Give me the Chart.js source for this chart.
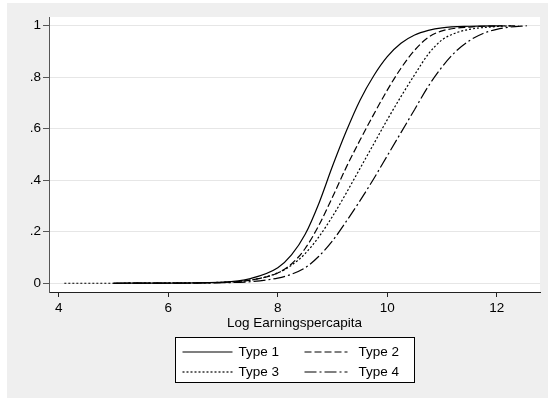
<!DOCTYPE html>
<html>
<head>
<meta charset="utf-8">
<script src="https://cdn.jsdelivr.net/npm/chart.js@4.4.0/dist/chart.umd.min.js"></script>
<style>
  html, body { margin: 0; padding: 0; background: #ffffff; }
  canvas { display: block; }
</style>
</head>
<body>
<canvas id="cdf" width="548" height="400"></canvas>
<script>
// Cumulative distributions of log earnings per capita, by household type
const seriesNames = ['Type 1', 'Type 2', 'Type 3', 'Type 4'];

const type1X = [5.0, 6.0, 7.0, 7.5, 8.0, 8.25, 8.5, 8.75, 9.0, 9.25, 9.5, 9.75, 10.0, 10.25, 10.5, 10.75, 11.0, 11.5, 12.1];
const type1Y = [0, 0.0005, 0.004, 0.018, 0.06, 0.11, 0.19, 0.31, 0.455, 0.59, 0.71, 0.805, 0.88, 0.932, 0.964, 0.982, 0.992, 0.998, 1.0];

const type2X = [5.0, 6.0, 7.0, 7.5, 8.0, 8.25, 8.5, 8.75, 9.0, 9.25, 9.5, 9.75, 10.0, 10.25, 10.5, 10.75, 11.0, 11.5, 12.0, 12.4];
const type2Y = [0, 0.0005, 0.003, 0.012, 0.04, 0.075, 0.135, 0.225, 0.335, 0.45, 0.555, 0.655, 0.75, 0.835, 0.905, 0.955, 0.98, 0.995, 0.999, 1.0];

const type3X = [4.1, 5.0, 6.0, 7.0, 7.5, 8.0, 8.25, 8.5, 8.75, 9.0, 9.25, 9.5, 9.75, 10.0, 10.25, 10.5, 10.75, 11.0, 11.25, 11.5, 12.0, 12.3];
const type3Y = [0, 0, 0.001, 0.004, 0.012, 0.04, 0.07, 0.115, 0.18, 0.26, 0.35, 0.445, 0.54, 0.635, 0.725, 0.81, 0.89, 0.945, 0.972, 0.986, 0.997, 1.0];

const type4X = [5.0, 6.0, 7.0, 7.5, 8.0, 8.25, 8.5, 8.75, 9.0, 9.25, 9.5, 9.75, 10.0, 10.25, 10.5, 10.75, 11.0, 11.25, 11.5, 11.75, 12.0, 12.25, 12.55];
const type4Y = [0, 0.0005, 0.002, 0.006, 0.02, 0.035, 0.06, 0.105, 0.165, 0.24, 0.32, 0.405, 0.495, 0.585, 0.675, 0.765, 0.84, 0.9, 0.942, 0.97, 0.986, 0.995, 1.0];

const xTicks = [4, 6, 8, 10, 12];
const yTicks = [0, 0.2, 0.4, 0.6, 0.8, 1];
const yTickLabels = ['0', '.2', '.4', '.6', '.8', '1'];
const xTitle = 'Log Earningspercapita';

const FONT = "'Liberation Sans', Arial, Helvetica, sans-serif";
const FONT_SIZE = 13.5;
const dashes = [[], [7, 3], [2, 2], [12, 3, 2, 3]];

function toPoints(xs, ys) {
  return xs.map((x, i) => ({ x: x, y: ys[i] }));
}

const seriesData = [
  toPoints(type1X, type1Y),
  toPoints(type2X, type2Y),
  toPoints(type3X, type3Y),
  toPoints(type4X, type4Y)
];

const datasets = seriesNames.map((name, i) => ({
  label: name,
  data: seriesData[i],
  showLine: true,
  borderColor: '#000000',
  borderWidth: 1.2,
  borderDash: dashes[i],
  pointRadius: 0,
  pointHoverRadius: 0,
  fill: false,
  cubicInterpolationMode: 'monotone'
}));

// Gray page, white plot region, axis title and a boxed two-column key
const frame = {
  id: 'frame',
  beforeDraw(chart) {
    const { ctx, chartArea: a } = chart;
    ctx.save();
    ctx.fillStyle = '#ffffff';
    ctx.fillRect(0, 0, chart.width, chart.height);
    ctx.fillStyle = '#efefef';
    ctx.fillRect(7, 3, chart.width - 7, 395);
    ctx.fillStyle = '#ffffff';
    ctx.fillRect(a.left, a.top, a.right - a.left, a.bottom - a.top);
    ctx.restore();
  },
  afterDraw(chart) {
    const { ctx, chartArea: a } = chart;
    const cx = (a.left + a.right) / 2;
    ctx.save();
    ctx.font = FONT_SIZE + 'px ' + FONT;
    ctx.fillStyle = '#000000';
    ctx.textAlign = 'center';
    ctx.textBaseline = 'middle';
    ctx.fillText(xTitle, cx, 323);

    // key
    const bw = 239, bh = 45;
    const bx = Math.round(cx - bw / 2) + 0.5, by = 337.5;
    ctx.fillStyle = '#ffffff';
    ctx.fillRect(bx, by, bw, bh);
    ctx.strokeStyle = '#000000';
    ctx.lineWidth = 1;
    ctx.setLineDash([]);
    ctx.strokeRect(bx, by, bw, bh);

    const rows = [352, 372];
    const cols = [bx + 7, bx + 129];
    seriesNames.forEach((name, i) => {
      const r = Math.floor(i / 2), c = i % 2;
      const lx = cols[c], ly = rows[r];
      const len = c === 0 ? 50 : 43;
      ctx.beginPath();
      ctx.setLineDash(dashes[i]);
      ctx.lineWidth = 1.2;
      ctx.strokeStyle = '#000000';
      ctx.moveTo(lx, ly);
      ctx.lineTo(lx + len, ly);
      ctx.stroke();
      ctx.setLineDash([]);
      ctx.fillStyle = '#000000';
      ctx.textAlign = 'left';
      ctx.textBaseline = 'middle';
      ctx.fillText(name, lx + (c === 0 ? 56 : 54), ly);
    });
    ctx.restore();
  }
};

new Chart(document.getElementById('cdf'), {
  type: 'scatter',
  data: { datasets: datasets },
  options: {
    responsive: false,
    animation: false,
    devicePixelRatio: 1,
    layout: { padding: { left: 0, top: 17, right: 8, bottom: 0 } },
    plugins: {
      legend: { display: false },
      tooltip: { enabled: false }
    },
    scales: {
      x: {
        type: 'linear',
        min: 3.82,
        max: 12.79,
        afterBuildTicks: (s) => { s.ticks = xTicks.map(v => ({ value: v })); },
        afterFit: (s) => { s.height = 108; },
        ticks: {
          autoSkip: false,
          maxRotation: 0,
          padding: 3,
          color: '#000000',
          font: { family: FONT, size: FONT_SIZE },
          callback: (v) => String(v)
        },
        grid: {
          drawOnChartArea: false,
          drawTicks: true,
          tickLength: 5,
          tickColor: '#222222'
        },
        border: { display: true, color: '#222222', width: 1 }
      },
      y: {
        type: 'linear',
        min: -0.034,
        max: 1.034,
        afterBuildTicks: (s) => { s.ticks = yTicks.map(v => ({ value: v })); },
        afterFit: (s) => { s.width = 49; },
        ticks: {
          autoSkip: false,
          padding: 2,
          color: '#000000',
          font: { family: FONT, size: FONT_SIZE },
          callback: (v) => {
            const k = yTicks.indexOf(v);
            return k >= 0 ? yTickLabels[k] : '';
          }
        },
        grid: {
          color: '#e6e6e6',
          lineWidth: 1,
          drawTicks: true,
          tickLength: 6,
          tickColor: '#555555'
        },
        border: { display: true, color: '#555555', width: 1 }
      }
    }
  },
  plugins: [frame]
});
</script>
</body>
</html>
